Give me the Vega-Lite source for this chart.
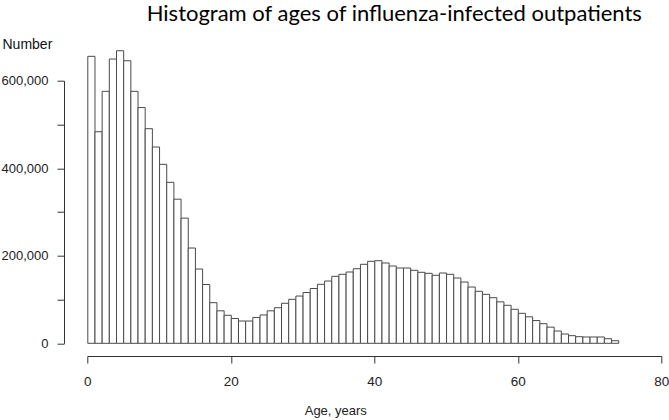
{
  "$schema": "https://vega.github.io/schema/vega-lite/v6.json",
  "width": 574,
  "height": 262.6,
  "autosize": "none",
  "padding": {"left": 87.3, "top": 80.7, "right": 7.7, "bottom": 76.7},
  "background": "white",
  "title": {
    "text": "Histogram of ages of influenza-infected outpatients",
    "font": "Lato",
    "fontSize": 22,
    "fontWeight": "normal",
    "color": "#000000",
    "anchor": "middle",
    "frame": "group",
    "dx": 20,
    "offset": 12
  },
  "data": {
    "values": [
      {"age": 0, "n": 655700}, {"age": 1, "n": 483400}, {"age": 2, "n": 575700}, {"age": 3, "n": 649500},
      {"age": 4, "n": 668500}, {"age": 5, "n": 645600}, {"age": 6, "n": 575700}, {"age": 7, "n": 538600},
      {"age": 8, "n": 490300}, {"age": 9, "n": 448500}, {"age": 10, "n": 408900}, {"age": 11, "n": 367800},
      {"age": 12, "n": 329300}, {"age": 13, "n": 286000}, {"age": 14, "n": 217700}, {"age": 15, "n": 169700},
      {"age": 16, "n": 134300}, {"age": 17, "n": 92800}, {"age": 18, "n": 74200}, {"age": 19, "n": 64000},
      {"age": 20, "n": 56600}, {"age": 21, "n": 50900}, {"age": 22, "n": 50900}, {"age": 23, "n": 59000},
      {"age": 24, "n": 64700}, {"age": 25, "n": 74200}, {"age": 26, "n": 81300}, {"age": 27, "n": 91400},
      {"age": 28, "n": 100500}, {"age": 29, "n": 108000}, {"age": 30, "n": 116000}, {"age": 31, "n": 125200},
      {"age": 32, "n": 134800}, {"age": 33, "n": 142300}, {"age": 34, "n": 153000}, {"age": 35, "n": 157600},
      {"age": 36, "n": 162900}, {"age": 37, "n": 170400}, {"age": 38, "n": 180500}, {"age": 39, "n": 187300},
      {"age": 40, "n": 188700}, {"age": 41, "n": 183500}, {"age": 42, "n": 176600}, {"age": 43, "n": 172000},
      {"age": 44, "n": 172000}, {"age": 45, "n": 166800}, {"age": 46, "n": 162200}, {"age": 47, "n": 159900},
      {"age": 48, "n": 155400}, {"age": 49, "n": 160600}, {"age": 50, "n": 157600}, {"age": 51, "n": 149200},
      {"age": 52, "n": 140000}, {"age": 53, "n": 128600}, {"age": 54, "n": 118800}, {"age": 55, "n": 111900},
      {"age": 56, "n": 104200}, {"age": 57, "n": 94700}, {"age": 58, "n": 86800}, {"age": 59, "n": 77700},
      {"age": 60, "n": 68500}, {"age": 61, "n": 60500}, {"age": 62, "n": 52000}, {"age": 63, "n": 44800},
      {"age": 64, "n": 36900}, {"age": 65, "n": 28100}, {"age": 66, "n": 21200}, {"age": 67, "n": 17400},
      {"age": 68, "n": 15100}, {"age": 69, "n": 14400}, {"age": 70, "n": 14400}, {"age": 71, "n": 14400},
      {"age": 72, "n": 10500}, {"age": 73, "n": 5900}
    ]
  },
  "mark": {"type": "bar", "fill": "white", "stroke": "#4a4a4a", "strokeWidth": 1, "binSpacing": 0},
  "encoding": {
    "x": {
      "field": "age",
      "type": "quantitative",
      "bin": {"step": 1, "extent": [0, 74]},
      "scale": {"domain": [0, 80], "nice": false},
      "axis": {
        "values": [0, 20, 40, 60, 80],
        "format": "d",
        "offset": 12.7,
        "tickSize": 7,
        "labelPadding": 11,
        "labelFont": "Liberation Sans",
        "labelFontSize": 13.5,
        "labelColor": "#222222",
        "labelFlush": false,
        "domainColor": "#333333",
        "tickColor": "#333333",
        "grid": false,
        "title": "Age, years",
        "titleFont": "Liberation Sans",
        "titleFontSize": 13,
        "titleFontWeight": "normal",
        "titleColor": "#222222",
        "titleAnchor": "start",
        "titleAlign": "center",
        "titleBaseline": "middle",
        "titleX": 248,
        "titleY": 54
      }
    },
    "y": {
      "field": "n",
      "type": "quantitative",
      "scale": {"domain": [0, 600000], "nice": false, "zero": true},
      "axis": {
        "values": [0, 100000, 200000, 300000, 400000, 500000, 600000],
        "labelExpr": "datum.value % 200000 === 0 ? format(datum.value, ',') : ''",
        "offset": 23.3,
        "tickSize": 7,
        "labelPadding": 9,
        "labelFont": "Liberation Sans",
        "labelFontSize": 13,
        "labelColor": "#222222",
        "labelFlush": false,
        "labelBaseline": "middle",
        "domainColor": "#333333",
        "tickColor": "#333333",
        "grid": false,
        "title": "Number",
        "titleFont": "Liberation Sans",
        "titleFontSize": 14,
        "titleFontWeight": "normal",
        "titleColor": "#111111",
        "titleAngle": 0,
        "titleAnchor": "start",
        "titleAlign": "left",
        "titleBaseline": "middle",
        "titleX": -62,
        "titleY": -36
      }
    }
  },
  "config": {"view": {"stroke": null}}
}
